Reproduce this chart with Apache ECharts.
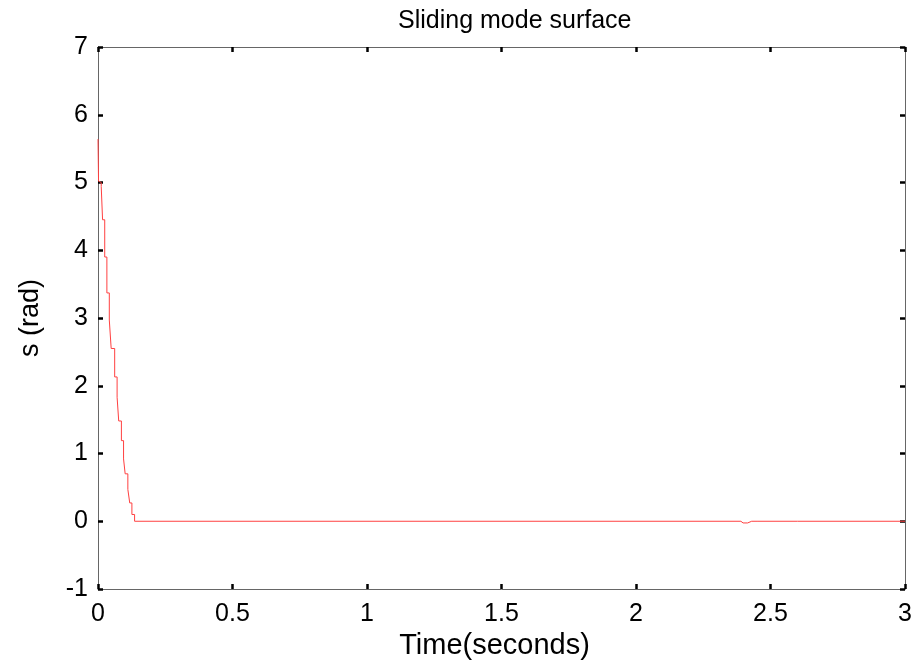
<!DOCTYPE html>
<html><head><meta charset="utf-8">
<script src="https://cdn.jsdelivr.net/npm/echarts@6/dist/echarts.min.js"></script>
<style>html,body{margin:0;padding:0;background:#fff}#c{width:917px;height:666px}</style>
</head><body><div id="c"></div>
<script>
var titleText = 'Sliding mode surface';
var xName = 'Time(seconds)';
var yName = 's (rad)';
var tValues = [0.000,0.002,0.002,0.012,0.012,0.017,0.017,0.025,0.025,0.033,0.033,0.042,0.042,0.049,0.049,0.062,0.062,0.071,0.071,0.077,0.077,0.087,0.087,0.095,0.095,0.101,0.101,0.111,0.111,0.118,0.118,0.126,0.126,0.136,0.136,1.0,2.0,2.390,2.398,2.405,2.415,2.422,2.430,2.450,2.6,3.0];
var sValues = [5.64,5.64,5.02,5.00,4.94,4.94,4.45,4.45,3.90,3.90,3.37,3.37,2.97,2.97,2.55,2.55,2.13,2.13,1.83,1.83,1.48,1.48,1.19,1.19,0.92,0.92,0.70,0.70,0.47,0.47,0.27,0.27,0.10,0.10,0.00,0.00,0.00,0.00,-0.025,-0.03,-0.025,0.00,0.00,0.00,0.00,0.00];
var xTicks = [0,0.5,1,1.5,2,2.5,3];
var yTicks = [-1,0,1,2,3,4,5,6,7];

var data = tValues.map(function(t,i){return [t,sValues[i]];});
var font = 'Liberation Sans, Arial, sans-serif';
var axisLine = {show:true,onZero:false,lineStyle:{color:'#666',width:1}};
var tick = {show:true,inside:true,length:5,lineStyle:{color:'#000',width:2.5}};
var chart = echarts.init(document.getElementById('c'));
chart.setOption({
  backgroundColor:'#fff',
  animation:false,
  title:{text:titleText,left:393,top:4,textStyle:{fontFamily:font,fontWeight:'normal',fontSize:25,color:'#000'}},
  grid:{left:98,right:12,top:47,bottom:77},
  xAxis:[{type:'value',min:xTicks[0],max:xTicks[xTicks.length-1],interval:0.5,
    name:xName,nameLocation:'middle',nameGap:20,nameTextStyle:{fontFamily:font,fontSize:29,color:'#000',verticalAlign:'top',padding:[0,14,0,0]},
    axisLine:axisLine,axisTick:tick,splitLine:{show:false},
    axisLabel:{fontFamily:font,fontSize:25,color:'#000',margin:13}},
   {type:'value',position:'top',min:0,max:3,interval:0.5,axisLine:axisLine,axisTick:tick,axisLabel:{show:false},splitLine:{show:false}}],
  yAxis:[{type:'value',min:yTicks[0],max:yTicks[yTicks.length-1],interval:1,
    name:yName,nameLocation:'middle',nameRotate:90,nameGap:54,nameTextStyle:{fontFamily:font,fontSize:27,color:'#000'},
    axisLine:axisLine,axisTick:tick,splitLine:{show:false},
    axisLabel:{fontFamily:font,fontSize:25,color:'#000',margin:10}},
   {type:'value',position:'right',min:-1,max:7,interval:1,axisLine:axisLine,axisTick:tick,axisLabel:{show:false},splitLine:{show:false}}],
  series:[{type:'line',data:data,showSymbol:false,lineStyle:{color:'#ff4040',width:1},z:5}]
});
</script></body></html>
